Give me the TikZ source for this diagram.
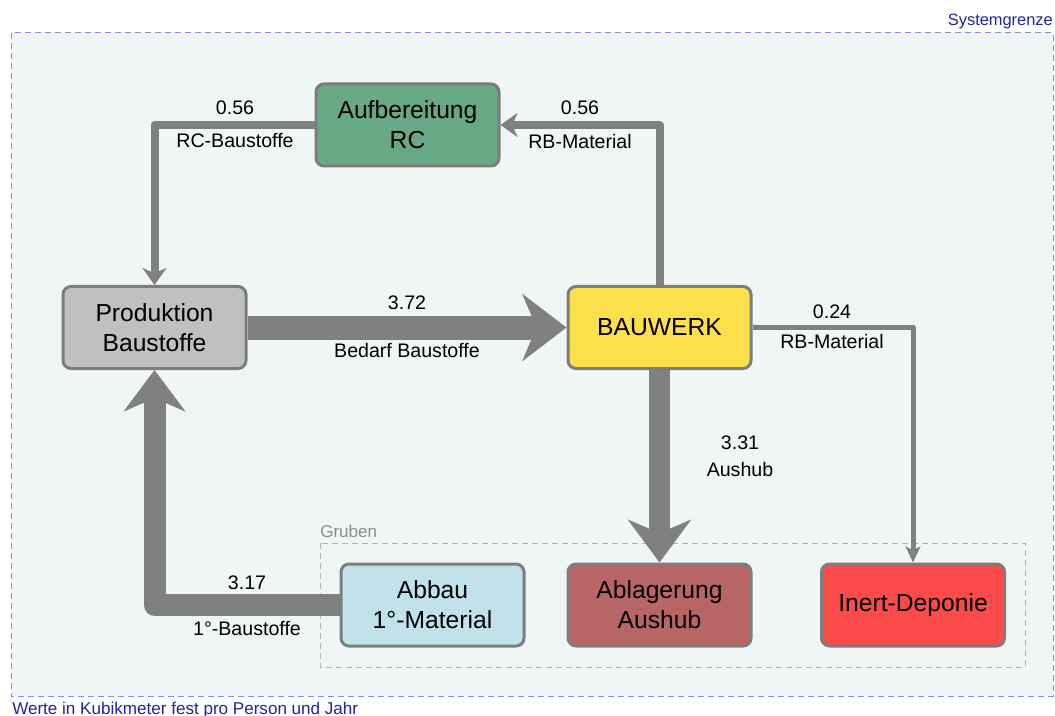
\documentclass[tikz,border=0pt]{standalone}
\usepackage{fontspec}
\setmainfont{Liberation Sans}
\usetikzlibrary{arrows.meta}
\definecolor{flowgray}{RGB}{128,128,128}
\definecolor{boxgray}{RGB}{125,125,125}
\definecolor{bgfill}{RGB}{240,245,245}
\definecolor{sysline}{RGB}{140,140,220}
\definecolor{sysblue}{RGB}{35,35,160}
\definecolor{rcgreen}{RGB}{103,169,133}
\definecolor{prodgray}{RGB}{192,192,192}
\definecolor{bwyellow}{RGB}{252,224,75}
\definecolor{abbaublue}{RGB}{193,226,234}
\definecolor{ablred}{RGB}{184,101,101}
\definecolor{inertred}{RGB}{251,74,74}
\begin{document}
\begin{tikzpicture}[x=0.75pt,y=-0.75pt,
    box/.style={draw=boxgray,line width=2.25pt,rounded corners=6pt,
      minimum width=137.25pt,minimum height=61.5pt,inner sep=0pt,align=center,
      font=\fontsize{18.5}{22.5}\selectfont},
    lbl/.style={inner sep=0pt,align=center,font=\fontsize{14.7}{19.5}\selectfont},
    flow/.style={draw=flowgray,line join=round}]
     \useasboundingbox (0,0) rectangle (1055,716);
     \draw[sysline,fill=bgfill,line width=0.75pt,dash pattern=on 4.5pt off 3pt] (11,33) rectangle (1053,696);
     \node[sysblue,anchor=base east,inner sep=0pt,font=\fontsize{12.3}{14}\selectfont] (sys) at (1053,26) {Systemgrenze};
     \node[sysblue,anchor=base west,inner sep=0pt,font=\fontsize{12.8}{14}\selectfont] (unit) at (12,714) {Werte in Kubikmeter fest pro Person und Jahr};
     \draw[black!30,line width=0.75pt,dash pattern=on 4.5pt off 3pt] (320,543) rectangle (1025,667);
     \node[black!45,anchor=base west,inner sep=0pt,font=\fontsize{12.8}{14}\selectfont] (gruben) at (320,537) {Gruben};
     \node[box,fill=rcgreen]   (rc)    at (407.5,125) {Aufbereitung\\RC};
     \node[box,fill=prodgray]  (prod)  at (154.5,327.5) {Produktion\\Baustoffe};
     \node[box,fill=bwyellow]  (bw)    at (659.5,327.5) {BAUWERK};
     \node[box,fill=abbaublue] (abbau) at (432.5,605) {Abbau\\1°-Material};
     \node[box,fill=ablred]    (abl)   at (659.5,605) {Ablagerung\\Aushub};
     \node[box,fill=inertred]  (inert) at (913,605) {Inert-Deponie};
     \draw[flow,line width=6pt,-{Stealth[length=12.75pt,width=18pt,inset=4pt]}] (rc.west) -| (prod.north);
     \draw[flow,line width=6pt,-{Stealth[length=12.75pt,width=18pt,inset=4pt]}] (bw.north) |- (rc.east);
     \draw[flow,line width=18pt,-{Stealth[length=33pt,width=50pt,inset=10.5pt]}] (prod.east) -- (bw.west);
     \draw[flow,line width=15.75pt,-{Stealth[length=32pt,width=47pt,inset=10pt]}] (bw.south) -- (abl.north);
     \draw[flow,line width=3.75pt,-{Stealth[length=12pt,width=11pt,inset=3pt]}] (bw.east) -| (inert.north);
     \draw[flow,line width=16.5pt,-{Stealth[length=31pt,width=46pt,inset=10pt]}] (abbau.west) -| (prod.south);
     \foreach \n/\x/\ya/\yb/\va/\vb in {rcb/235/108/141/0.56/RC-Baustoffe,
                                      rbm/580/108/141/0.56/RB-Material,
                                      bed/407/303/350/3.72/Bedarf Baustoffe,
                                      rbi/832/312/341/0.24/RB-Material,
                                      aus/740/443/469/3.31/Aushub,
                                      pri/247/583/628/3.17/1°-Baustoffe} {
      \node[lbl] (val\n) at (\x,\ya) {\va};
      \node[lbl] (txt\n) at (\x,\yb) {\vb};
     }
    \end{tikzpicture}
\end{document}
